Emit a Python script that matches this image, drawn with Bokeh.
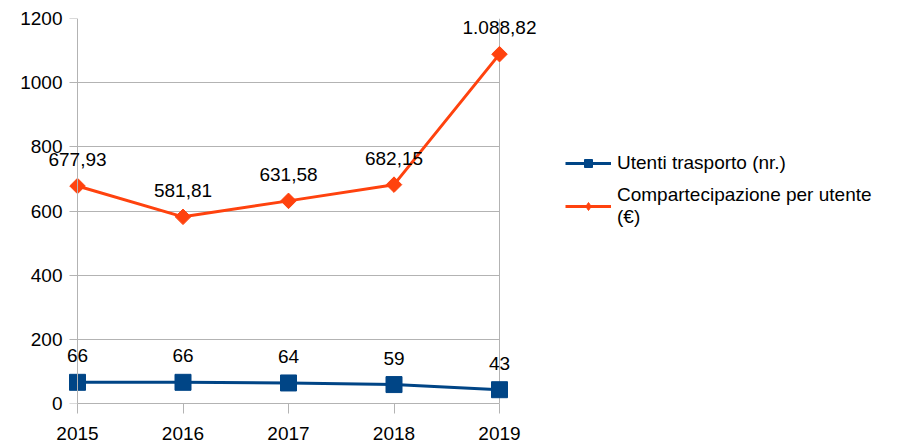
import math
from bokeh.plotting import figure
from bokeh.models import (ColumnDataSource, FixedTicker, Range1d, Legend, LegendItem,
                          LabelSet, Grid, LinearAxis)
from bokeh.core.properties import value
from bokeh.embed import file_html
from bokeh.resources import INLINE

years = [2015, 2016, 2017, 2018, 2019]
utenti = [66, 66, 64, 59, 43]
compartecipazione = [677.93, 581.81, 631.58, 682.15, 1088.82]
utenti_labels = ["66", "66", "64", "59", "43"]
comp_labels = ["677,93", "581,81", "631,58", "682,15", "1.088,82"]
y_ticks = [0, 200, 400, 600, 800, 1000, 1200]

BLUE = "#004586"
ORANGE = "#ff420e"
GRID = "#b3b3b3"
FONT = "Liberation Sans"
FS = "19px"

src_u = ColumnDataSource(dict(x=years, y=utenti, t=utenti_labels))
src_c = ColumnDataSource(dict(x=years, y=compartecipazione, t=comp_labels))

x0, x1 = years[0], years[-1]
y0, y1 = y_ticks[0], y_ticks[-1]

# the frame is wider than the axes so that the data labels are not clipped
p = figure(output_backend="svg", toolbar_location=None,
           frame_width=501, frame_height=385,
           min_border_left=44, min_border_top=18, min_border_bottom=44, min_border_right=350,
           x_range=Range1d(x0 - 0.3128, x1 + 0.436), y_range=Range1d(y0, y1))
p.background_fill_color = "white"
p.border_fill_color = "white"
p.outline_line_color = None
p.xgrid.grid_line_color = None
p.ygrid.grid_line_color = None

has_cross = "cross_bounds" in Grid.properties()
if has_cross:
    p.add_layout(Grid(dimension=1, ticker=FixedTicker(ticks=y_ticks), grid_line_color=GRID,
                      cross_bounds=(x0, x1)))
    p.add_layout(Grid(dimension=0, ticker=FixedTicker(ticks=[x1]), grid_line_color=GRID,
                      cross_bounds=(y0, y1)))
else:
    p.segment(x0=[x0] * len(y_ticks), x1=[x1] * len(y_ticks), y0=y_ticks, y1=y_ticks,
              color=GRID, line_width=1, level="underlay")
    p.segment(x0=[x1], x1=[x1], y0=[y0], y1=[y1], color=GRID, line_width=1, level="underlay")

# y tick labels (default left axis, labels only)
ya = p.yaxis[0]
ya.ticker = FixedTicker(ticks=y_ticks)
ya.axis_line_color = None
ya.major_tick_line_color = None
ya.minor_tick_line_color = None
ya.major_tick_in = 0
ya.major_tick_out = 0
ya.major_label_standoff = -18
ya.major_label_text_font = FONT
ya.major_label_text_font_size = FS
ya.major_label_text_color = "black"

# y axis line and ticks at the first year
ya2 = LinearAxis(ticker=FixedTicker(ticks=y_ticks), fixed_location=x0, bounds=(y0, y1),
                 axis_line_color=GRID, major_tick_line_color=GRID, minor_tick_line_color=None,
                 major_tick_in=0, major_tick_out=8, major_label_text_alpha=0,
                 major_label_text_font_size="1px", major_label_standoff=0)
p.add_layout(ya2, "left")

xa = p.xaxis[0]
xa.ticker = FixedTicker(ticks=years)
xa.bounds = (x0, x1)
xa.axis_line_color = GRID
xa.major_tick_line_color = GRID
xa.minor_tick_line_color = None
xa.major_tick_in = 0
xa.major_tick_out = 10
xa.major_label_standoff = 13
xa.major_label_text_font = FONT
xa.major_label_text_font_size = FS
xa.major_label_text_color = "black"

lu = p.line("x", "y", source=src_u, color=BLUE, line_width=3)
mu = p.scatter("x", "y", source=src_u, marker="square", size=16, color=BLUE)
lc = p.line("x", "y", source=src_c, color=ORANGE, line_width=3)
mc = p.scatter("x", "y", source=src_c, marker="square", angle=math.pi / 4, size=11,
               color=ORANGE)
# diamond glyph used for the legend entry (zero size in the plot)
md = p.scatter("x", "y", source=src_c, marker="diamond", size=0, color=ORANGE)

for src in (src_u, src_c):
    p.add_layout(LabelSet(x="x", y="y", text="t", source=src, text_align="center",
                          text_baseline="alphabetic", y_offset=20,
                          text_font=value(FONT), text_font_size=value(FS),
                          text_color="black"))

legend = Legend(items=[
    LegendItem(label="Utenti trasporto (nr.)", renderers=[lu, mu]),
    LegendItem(label="Compartecipazione per utente\n(€)", renderers=[lc, md]),
], location=(20, 175), border_line_color=None, background_fill_alpha=0,
    label_text_font=FONT, label_text_font_size=FS, label_text_color="black",
    glyph_width=46, glyph_height=20,
    label_standoff=6, spacing=10, padding=4, margin=0)
p.add_layout(legend, "right")

open("out.html", "w").write(file_html(p, INLINE))
